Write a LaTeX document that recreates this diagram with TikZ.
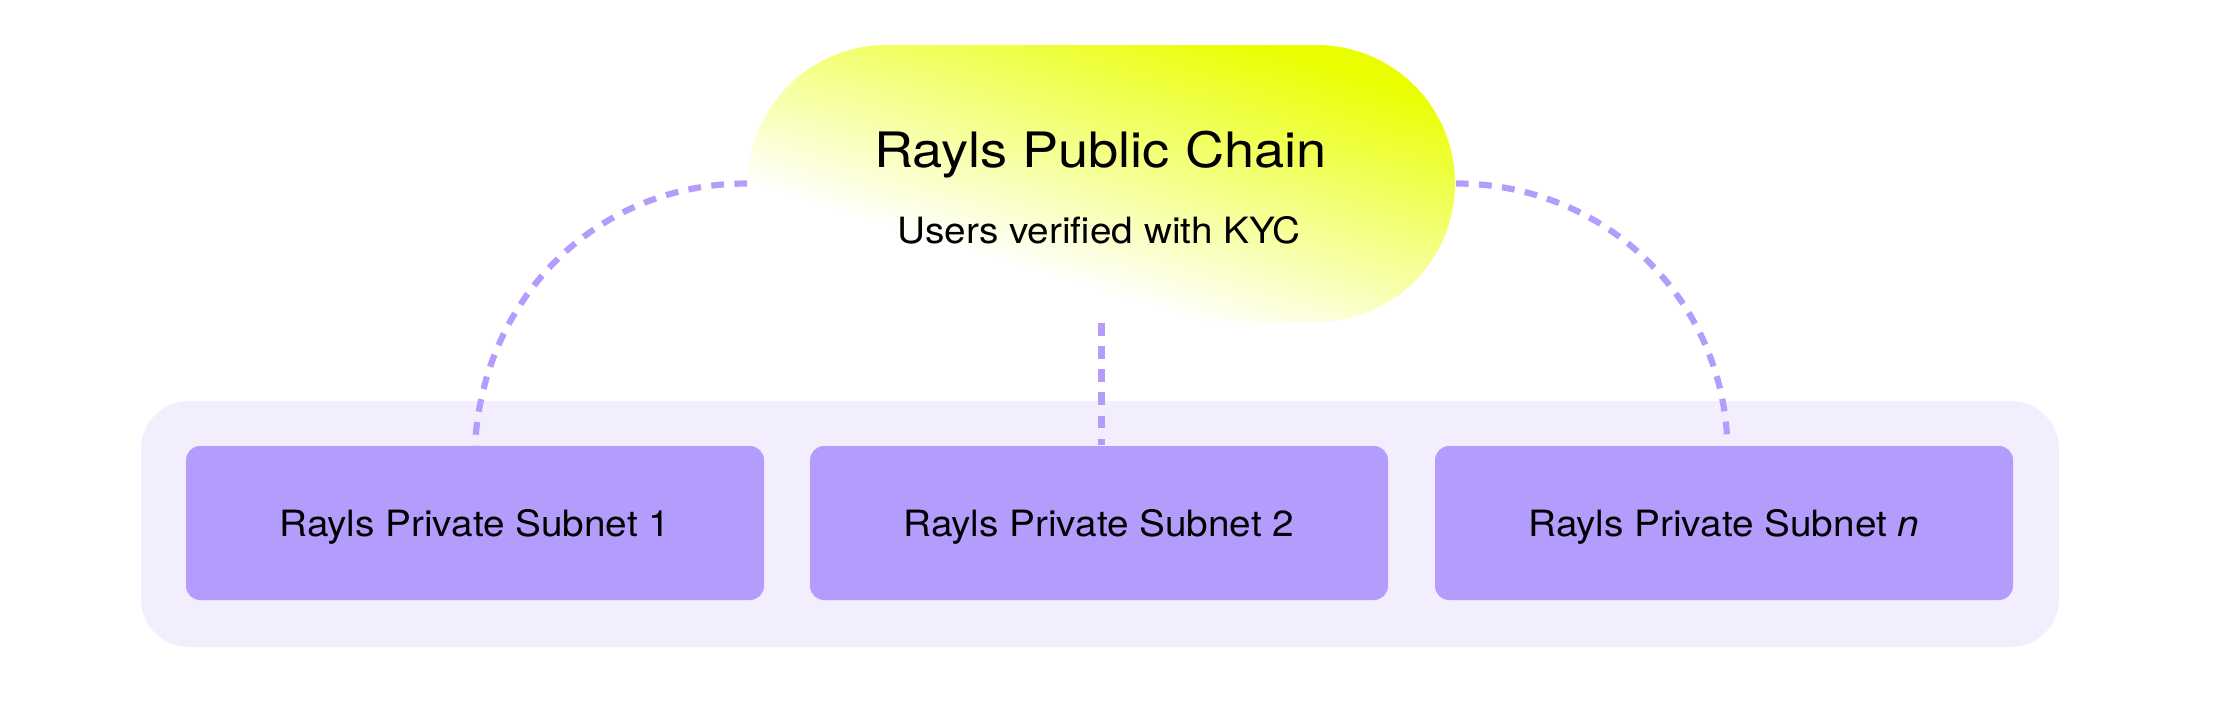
\documentclass[tikz,border=0pt]{standalone}
\usepackage{fontspec}
\setmainfont{TeX Gyre Heros}[FakeStretch=1.07]
\newfontfamily\titlefont{TeX Gyre Heros}[FakeStretch=1.11]
\usetikzlibrary{calc}
\definecolor{contfill}{HTML}{F3EEFE}
\definecolor{boxfill}{HTML}{B49CFD}
\definecolor{dashcol}{HTML}{B49CFD}
\definecolor{yel}{HTML}{E9FF00}
\pgfdeclareverticalshading{pubshade}{100bp}{color(0bp)=(white); color(36bp)=(white); color(74bp)=(yel); color(100bp)=(yel)}
\tikzset{
  container/.style={fill=contfill, rounded corners=12pt, minimum width=479.5pt, minimum height=61.5pt, inner sep=0pt},
  subnet/.style={fill=boxfill, rounded corners=3.5pt, minimum width=144.5pt, minimum height=38.5pt, inner sep=0pt, text height=6.5pt, text depth=0pt, font=\fontsize{9.05}{11}\selectfont},
  pill/.style={shade, shading=pubshade, shading angle=-17, rounded corners=34.6pt, minimum width=176.75pt, minimum height=69.25pt, inner sep=0pt},
  link/.style={draw=dashcol, line width=1.55pt, dash pattern=on 3.2pt off 2.6pt},
}
\begin{document}
\begin{tikzpicture}[x=0.25pt,y=-0.25pt]
\useasboundingbox (0,0) rectangle (2214,720);
\node[container] (cont) at (1100,524) {};
\node[pill] (pub) at (1101.5,183.5) {};
\node[anchor=base, font=\titlefont\fontsize{12.2}{14}\selectfont] (title) at (1100.5,167) {Rayls Public Chain};
\node[anchor=base, font=\fontsize{9.05}{11}\selectfont] (sub) at (1099,243) {Users verified with KYC};
\node[subnet] (b1) at (475,523) {Rayls Private Subnet 1};
\node[subnet] (b2) at (1099,523) {Rayls Private Subnet 2};
\node[subnet] (bn) at (1724,523) {Rayls Private Subnet \textit{n}};
\coordinate (rend) at ($(bn.north)+(3,-9)$);
\draw[link] (pub.west) .. controls +(-153,0) and +(8,-145) .. (b1.north);
\draw[link] (pub.east) .. controls +(148,0) and +(-8,-140) .. (rend);
\draw[link] (pub.south) -- (pub.south |- b2.north);
\end{tikzpicture}
\end{document}
